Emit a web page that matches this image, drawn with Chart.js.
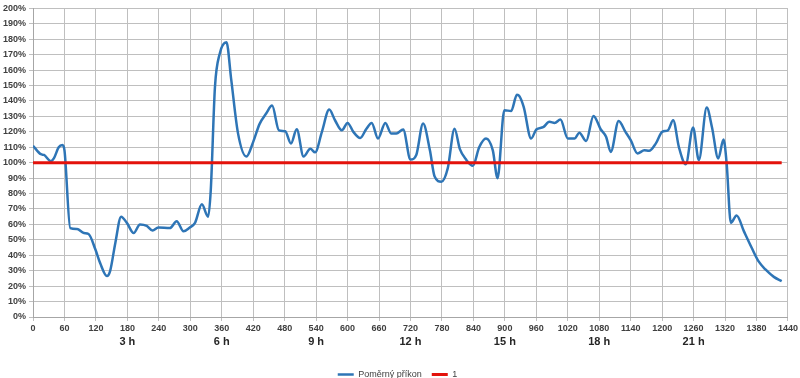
<!DOCTYPE html>
<html>
<head>
<meta charset="utf-8">
<script src="https://cdn.jsdelivr.net/npm/chart.js@4"></script>
<style>
  html, body { margin: 0; padding: 0; background: #fff; overflow: hidden; }
  #wrap { width: 800px; height: 378px; }
</style>
</head>
<body>
<div id="wrap"><canvas id="prikonChart" width="800" height="378"></canvas></div>
<script>
// minuty od půlnoci a poměrný příkon v %
const minuty = [0, 15, 21, 34, 40, 49, 56, 60, 71, 84, 97, 106, 119, 128, 141, 147, 157, 168, 179, 192,
  204, 217, 228, 239, 261, 274, 287, 299, 309, 322, 334, 339, 347, 356, 369, 378, 391, 407, 420, 432,
  445, 456, 469, 481, 492, 503, 516, 529, 538, 551, 565, 576, 589, 600, 611, 624, 636, 646, 658, 672,
  683, 693, 706, 720, 731, 744, 757, 766, 779, 791, 804, 814, 826, 839, 851, 864, 877, 886, 899, 912,
  923, 928, 936, 950, 960, 973, 985, 995, 1006, 1020, 1033, 1042, 1055, 1069, 1083, 1093, 1102, 1117,
  1130, 1140, 1153, 1166, 1175, 1188, 1200, 1211, 1221, 1232, 1245, 1259, 1270, 1285, 1295, 1307,
  1317, 1323, 1331, 1342, 1356, 1371, 1384, 1397, 1413, 1428];
const prikon = [111, 105.5, 105, 101, 103, 110, 111.4, 108, 57.6, 57, 54.4, 53.8, 43.7, 35, 26.5, 29.7, 48, 65, 61, 54.4,
  60, 59, 56, 58, 57.6, 62, 55.5, 58, 61, 73, 65, 82, 149, 170.5, 178, 154, 119, 104, 113.5, 125,
  132, 137, 121, 120.4, 112.5, 121.7, 104, 109, 106.7, 120, 134.4, 127.5, 121, 125.8, 120, 116, 122, 125.8, 115.7, 125.8,
  119, 119, 121.5, 102, 105, 125.4, 108, 91, 87.7, 96.3, 122, 109, 102, 98, 110, 115.7, 108, 90, 134, 133.5,
  144, 143, 136, 115.7, 121.5, 123, 126.5, 125.8, 128, 115.7, 115.7, 119.4, 114, 130.3, 121.5, 116.8, 107, 127,
  120, 114.6, 106, 108, 107.7, 112.5, 120, 121, 127.5, 110, 99, 122.8, 101.7, 135.7, 123, 102.8,
  115, 99.6, 61, 65.8, 55.5, 44.7, 36, 30.8, 26, 23.2];
const hodinyTicks = [180, 360, 540, 720, 900, 1080, 1260];
const referenceX = [0, 1428];
const referenceY = [100, 100];

const ctx = document.getElementById('prikonChart').getContext('2d');

const data = {
    datasets: [{
        label: 'Poměrný příkon',
        data: minuty.map((m, i) => ({ x: m, y: prikon[i] })),
        borderColor: '#2e75b6',
        backgroundColor: '#2e75b6',
        borderWidth: 2.5,
        pointRadius: 0,
        cubicInterpolationMode: 'monotone',
        order: 2
    }, {
        label: '1',
        data: referenceX.map((m, i) => ({ x: m, y: referenceY[i] })),
        borderColor: '#e3120b',
        backgroundColor: '#e3120b',
        borderWidth: 3,
        pointRadius: 0,
        order: 1
    }]
};

const tickFont = { family: 'Liberation Sans', size: 9, weight: 'bold' };

// legenda je v originále níž, těsně u spodního okraje
const posunLegendy = {
    id: 'posunLegendy',
    afterLayout(chart) {
        chart.legend.top += 11;
        chart.legend.bottom += 11;
    }
};

const config = {
    type: 'line',
    data: data,
    options: {
        responsive: false,
        animation: false,
        layout: { padding: { top: 0, right: 5, left: 0, bottom: 0 } },
        plugins: {
            legend: {
                position: 'bottom',
                labels: {
                    usePointStyle: true,
                    pointStyle: 'line',
                    pointStyleWidth: 16,
                    boxHeight: 8,
                    padding: 10,
                    color: '#404040',
                    font: { family: 'Liberation Sans', size: 9 },
                    sort: (a, b) => a.datasetIndex - b.datasetIndex
                }
            },
            tooltip: { enabled: false }
        },
        scales: {
            x: {
                type: 'linear',
                min: 0,
                max: 1440,
                ticks: { stepSize: 60, color: '#404040', font: tickFont, maxRotation: 0, padding: 2,
                    callback: v => String(v) },
                grid: { color: '#bfbfbf', tickLength: 4 },
                border: { color: '#a6a6a6' }
            },
            xh: {
                type: 'linear',
                position: 'bottom',
                min: 0,
                max: 1440,
                afterBuildTicks: axis => { axis.ticks = hodinyTicks.map(v => ({ value: v })); },
                ticks: {
                    color: '#262626',
                    font: { family: 'Liberation Sans', size: 11, weight: 'bold' },
                    maxRotation: 0,
                    autoSkip: false,
                    padding: 0,
                    callback: v => (v / 60) + ' h'
                },
                grid: { display: false, drawTicks: false },
                border: { display: false }
            },
            y: {
                min: 0,
                max: 200,
                ticks: { stepSize: 10, color: '#404040', font: tickFont, padding: 3, callback: v => v + '%' },
                grid: { color: '#bfbfbf', tickLength: 4 },
                border: { color: '#a6a6a6' }
            }
        }
    },
    plugins: [posunLegendy]
};

new Chart(ctx, config);
</script>
</body>
</html>
